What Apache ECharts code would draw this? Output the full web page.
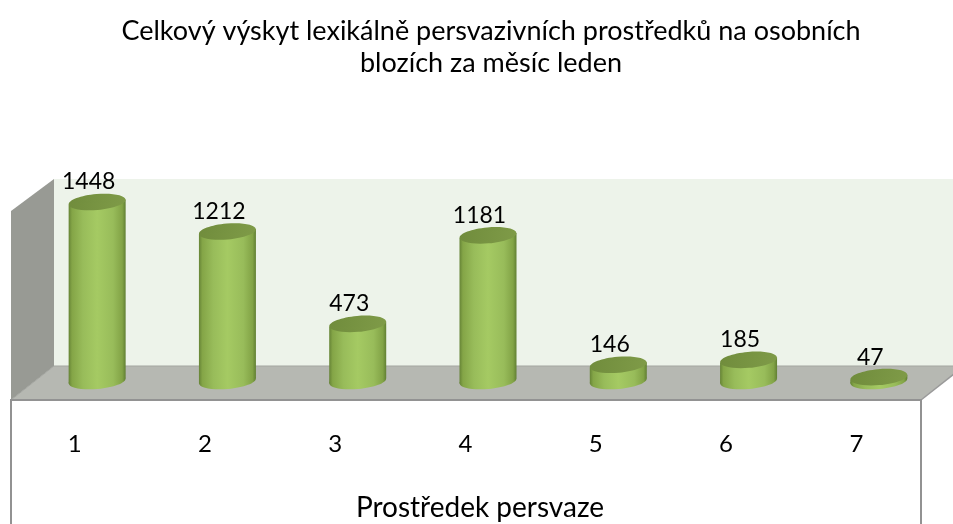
<!DOCTYPE html>
<html>
<head>
<meta charset="utf-8">
<style>
html,body{margin:0;padding:0;background:#fff}
#chart{width:953px;height:524px}
</style>
<script src="https://cdn.jsdelivr.net/npm/echarts@6/dist/echarts.min.js"></script>
</head>
<body>
<div id="chart"></div>
<script>
// data
var categories = ['1', '2', '3', '4', '5', '6', '7'];
var values = [1448, 1212, 473, 1181, 146, 185, 47];
var titleText = 'Celkový výskyt lexikálně persvazivních prostředků na osobních\nblozích za měsíc leden';
var axisTitle = 'Prostředek persvaze';

var FONT = 'Lato';
var chart = echarts.init(document.getElementById('chart'), null, {renderer: 'canvas'});

function hGrad(stops) {
  return new echarts.graphic.LinearGradient(0, 0, 1, 0, stops);
}

// cylinder body with side shading
var bodyStops = [
  {offset: 0, color: '#668436'},
  {offset: 0.06, color: '#84a547'},
  {offset: 0.25, color: '#98bc5a'},
  {offset: 0.5, color: '#a5ca63'},
  {offset: 0.78, color: '#98bc5a'},
  {offset: 0.94, color: '#82a346'},
  {offset: 1, color: '#617f33'}
];

function renderCylinder(params, api) {
  var idx = api.value(0);
  var val = api.value(1);
  var top = api.coord([idx, val]);
  var base = api.coord([idx, 0]);
  var rx = 28.5, ry = 8, tilt = 2.5, rot = 5 * Math.PI / 180;
  var cx = top[0];
  var baseY = base[1] - 2; // bottom disc sits a little above the zero line
  return {
    type: 'group',
    children: [
      {
        type: 'ellipse',
        rotation: rot, originX: cx, originY: baseY,
        shape: {cx: cx, cy: baseY, rx: rx, ry: ry},
        style: {fill: hGrad(bodyStops)}
      },
      {
        type: 'polygon',
        shape: {points: [
          [cx - rx, top[1] + tilt], [cx + rx, top[1] - tilt],
          [cx + rx, baseY - tilt], [cx - rx, baseY + tilt]
        ]},
        style: {fill: hGrad(bodyStops)}
      },
      {
        type: 'ellipse',
        rotation: rot, originX: cx, originY: top[1],
        shape: {cx: cx, cy: top[1], rx: rx, ry: ry},
        style: {
          fill: new echarts.graphic.LinearGradient(0, 0, 1, 1, [
            {offset: 0, color: '#708c3c'},
            {offset: 1, color: '#7f9b48'}
          ])
        }
      },
      {
        type: 'text',
        style: {
          x: cx - 8.5, y: top[1] - 20,
          text: String(val),
          font: '23px ' + FONT,
          fill: '#000',
          align: 'center', verticalAlign: 'middle'
        }
      }
    ]
  };
}

var option = {
  animation: false,
  backgroundColor: '#fff',
  title: {
    text: titleText,
    left: 486,
    top: 10,
    textAlign: 'center',
    textStyle: {fontFamily: FONT, fontSize: 27, fontWeight: 'normal', color: '#000', lineHeight: 32}
  },
  graphic: [
    // back wall
    {type: 'rect', z: -10, shape: {x: 54, y: 179, width: 899, height: 187}, style: {fill: '#edf3ea'}},
    // left wall
    {type: 'polygon', z: -9, shape: {points: [[11, 211], [54, 179], [54, 366], [11, 400]]},
      style: {fill: '#989a94'}},
    // floor
    {type: 'polygon', z: -8, shape: {points: [[54, 366], [964, 366], [921, 400], [11, 400]]},
      style: {fill: '#b6b8b2'}},
    {type: 'polyline', z: -7, shape: {points: [[11, 400], [54, 366], [964, 366]]},
      style: {fill: 'none', stroke: '#a3a5a0', lineWidth: 1}},
    {type: 'polyline', z: -7, shape: {points: [[921, 400], [964, 366]]},
      style: {fill: 'none', stroke: '#9a9a9a', lineWidth: 1.5}},
    // front edge and sides of the label box
    {type: 'polyline', z: -7, shape: {points: [[11, 524], [11, 400], [921, 400], [921, 524]]},
      style: {fill: 'none', stroke: '#929292', lineWidth: 2}}
  ],
  grid: {left: 32, width: 912, top: 183, height: 200, containLabel: false},
  xAxis: {
    type: 'category',
    data: categories,
    axisLine: {show: false},
    axisTick: {show: false},
    axisLabel: {
      interval: 0, margin: 49, color: '#000', fontFamily: FONT, fontSize: 24,
      padding: [0, 45, 0, 0]
    },
    name: axisTitle,
    nameLocation: 'middle',
    nameGap: 111,
    nameTextStyle: {fontFamily: FONT, fontSize: 28, color: '#000', padding: [0, 16, 0, 0]}
  },
  yAxis: {type: 'value', min: 0, max: 1600, show: false, splitLine: {show: false}},
  series: [{
    type: 'custom',
    renderItem: renderCylinder,
    encode: {x: 0, y: 1},
    data: values.map(function (v, i) { return [i, v]; }),
    clip: false
  }]
};
chart.setOption(option);
window.addEventListener('resize', function () { chart.resize(); });
</script>
</body>
</html>
